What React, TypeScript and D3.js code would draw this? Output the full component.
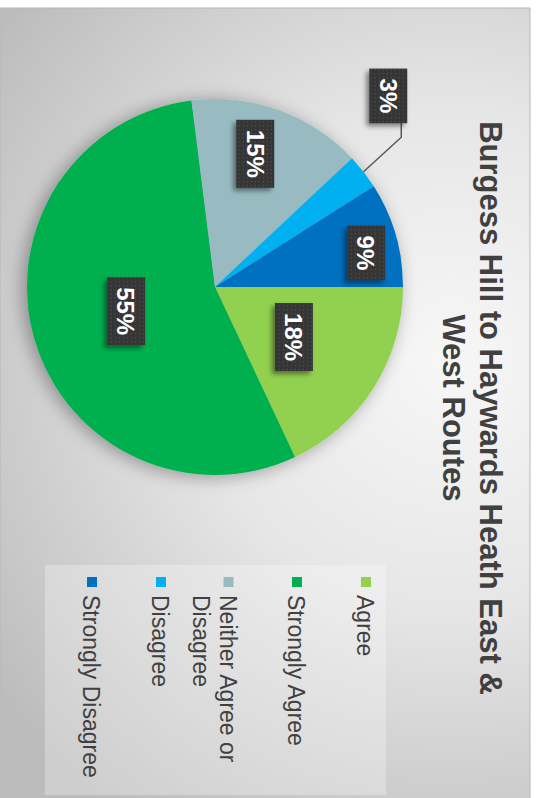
import React from "react";
import * as d3 from "d3";

// ---- data ----
const categories = ["Agree", "Strongly Agree", "Neither Agree or Disagree", "Disagree", "Strongly Disagree"];
const values = [18, 55, 15, 3, 9];
const sliceColors = ["#92D050", "#00B050", "#98BBC2", "#00B0F0", "#0070C0"];
const legendLines = [["Agree"], ["Strongly Agree"], ["Neither Agree or", "Disagree"], ["Disagree"], ["Strongly Disagree"]];
const titleLines = ["Burgess Hill to Haywards Heath East &", "West Routes"];

// label placement (fraction of radius, angular shift in degrees)
const labelRadius = [0.497, 0.49, 0.74, 1.372, 0.824];
const labelShiftDeg = [0, 1, -3, -10, 3.5];

const W = 537;
const H = 798;
// chart is drawn in an unrotated frame (u horizontal 0..798, v vertical 0..537)
// and turned 90° clockwise onto the page.
const CX = 287;
const CY = 322;
const R = 188;
const FONT = "'Liberation Sans', Arial, sans-serif";

export default function App() {
  const pieGen = d3.pie<number>().sort(null).value((d) => d);
  const arcs = pieGen(values);
  const arcGen = d3.arc<d3.PieArcDatum<number>>().innerRadius(0).outerRadius(R);

  const labelFont = 24;
  const labels = arcs.map((a, i) => {
    const mid = (a.startAngle + a.endAngle) / 2 + (labelShiftDeg[i] * Math.PI) / 180;
    const rr = R * labelRadius[i];
    const x = CX + rr * Math.sin(mid);
    const y = CY - rr * Math.cos(mid);
    const txt = `${values[i]}%`;
    const tw = (txt.length - 1) * 0.556 * labelFont + 0.889 * labelFont;
    const bw = tw + 20;
    const bh = 38;
    const outside = labelRadius[i] > 1;
    let leader: string | null = null;
    if (outside) {
      const m = (a.startAngle + a.endAngle) / 2;
      const ex = CX + R * Math.sin(m);
      const ey = CY - R * Math.cos(m);
      const edge = x + bw / 2;
      leader = `M${ex},${ey} L${edge + 14},${y - 13} L${edge},${y - 13}`;
    }
    return { x, y, txt, bw, bh, leader };
  });

  const legendV = [171, 240, 308.5, 376, 445];

  return (
    <svg width={W} height={H} style={{ position: "absolute", left: 0, top: 0 }}>
      <defs>
        <radialGradient id="bg" gradientUnits="userSpaceOnUse" cx={450} cy={360} r={560}>
          <stop offset="0" stopColor="#f7f7f7" />
          <stop offset="0.45" stopColor="#e6e6e6" />
          <stop offset="1" stopColor="#bcbcbc" />
        </radialGradient>
        <pattern id="dots" width="4" height="4" patternUnits="userSpaceOnUse">
          <rect width="4" height="4" fill="#363636" />
          <rect x="1" y="1" width="1.2" height="1.2" fill="#4c4c4c" />
        </pattern>
        <filter id="pieShadow" x="-20%" y="-20%" width="140%" height="140%">
          <feGaussianBlur in="SourceAlpha" stdDeviation="9" />
          <feOffset dx="2" dy="4" result="b" />
          <feComponentTransfer>
            <feFuncA type="linear" slope="0.35" />
          </feComponentTransfer>
          <feMerge>
            <feMergeNode />
            <feMergeNode in="SourceGraphic" />
          </feMerge>
        </filter>
        <filter id="boxShadow" x="-30%" y="-30%" width="160%" height="160%">
          <feDropShadow dx="3" dy="3" stdDeviation="2.5" floodColor="#000" floodOpacity="0.45" />
        </filter>
      </defs>

      <rect x={0} y={8} width={530} height={792} fill="url(#bg)" stroke="#b8b8b8" strokeWidth={1} />

      <g transform={`translate(${W},0) rotate(90)`}>
        {/* title */}
        <g fontFamily={FONT} fontWeight="bold" fontSize={31} fill="#404040" textAnchor="middle">
          {titleLines.map((t, i) => (
            <text key={i} x={408} y={57 + i * 37}>
              {t}
            </text>
          ))}
        </g>

        {/* pie */}
        <g filter="url(#pieShadow)">
          {arcs.map((a, i) => (
            <path key={i} d={arcGen(a) || ""} transform={`translate(${CX},${CY})`} fill={sliceColors[i]} />
          ))}
        </g>

        {/* leader lines */}
        {labels.map((l, i) =>
          l.leader ? <path key={i} d={l.leader} fill="none" stroke="#595959" strokeWidth={1.5} /> : null
        )}

        {/* data labels */}
        {labels.map((l, i) => (
          <g key={i}>
            <rect
              x={l.x - l.bw / 2}
              y={l.y - l.bh / 2}
              width={l.bw}
              height={l.bh}
              fill="url(#dots)"
              filter="url(#boxShadow)"
            />
            <text
              x={l.x}
              y={l.y + labelFont * 0.36}
              textAnchor="middle"
              fontFamily={FONT}
              fontWeight="bold"
              fontSize={labelFont}
              fill="#ffffff"
            >
              {l.txt}
            </text>
          </g>
        ))}

        {/* legend */}
        <rect x={565} y={151} width={230} height={341} fill="#ffffff" fillOpacity={0.28} />
        {categories.map((c, i) => (
          <g key={c}>
            <rect x={577} y={legendV[i] - 5} width={10} height={10} fill={sliceColors[i]} />
            {legendLines[i].map((line, j) => (
              <text
                key={j}
                x={595}
                y={legendV[i] + 9 + j * 27}
                fontFamily={FONT}
                fontSize={23}
                fill="#404040"
              >
                {line}
              </text>
            ))}
          </g>
        ))}
      </g>
    </svg>
  );
}
